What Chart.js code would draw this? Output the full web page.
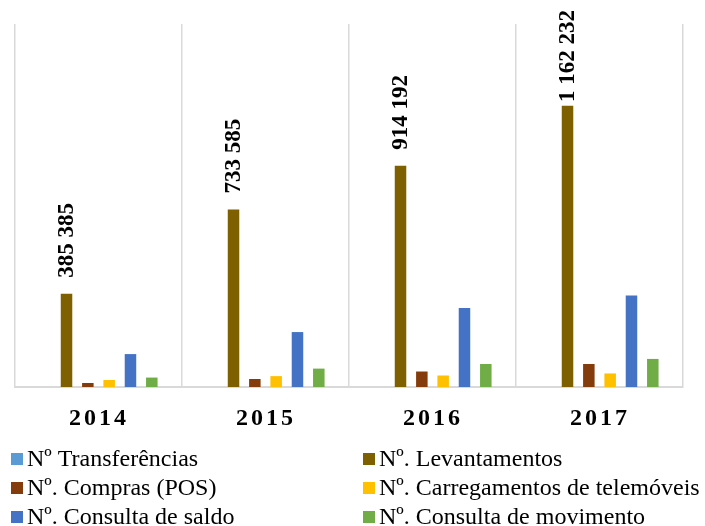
<!DOCTYPE html>
<html>
<head>
<meta charset="utf-8">
<script src="https://cdn.jsdelivr.net/npm/chart.js@4"></script>
<style>
  html, body { margin: 0; padding: 0; background: #fff; }
  #wrap { width: 705px; height: 526px; position: relative; }
</style>
</head>
<body>
<div id="wrap"><canvas id="chart"></canvas></div>
<script>
// ===== Data =====
const years = ["2014", "2015", "2016", "2017"];
const seriesNames = [
  "Nº Transferências",
  "Nº. Levantamentos",
  "Nº. Compras (POS)",
  "Nº. Carregamentos de telemóveis",
  "Nº. Consulta de saldo",
  "Nº. Consulta de movimento"
];
const transferencias = [0, 0, 0, 0];
const levantamentos = [385385, 733585, 914192, 1162232];
const compras = [16500, 33000, 64000, 95000];
const carregamentos = [29000, 45000, 47500, 56000];
const consultaSaldo = [136000, 227000, 326000, 378000];
const consultaMovimento = [39000, 76000, 95000, 116000];
const seriesColors = ["#5B9BD5", "#7F6000", "#843C0C", "#FFC000", "#4472C4", "#70AD47"];

const allSeries = [transferencias, levantamentos, compras, carregamentos, consultaSaldo, consultaMovimento];

const serifFont = "'Liberation Serif', 'Times New Roman', serif";

// ===== Value labels on Levantamentos (rotated) =====
const levLabels = {
  id: "levLabels",
  afterDatasetsDraw(chart) {
    const ctx = chart.ctx;
    const meta = chart.getDatasetMeta(1);
    ctx.save();
    ctx.font = "bold 23px " + serifFont;
    ctx.fillStyle = "#000";
    ctx.textAlign = "left";
    ctx.textBaseline = "middle";
    meta.data.forEach((bar, i) => {
      const txt = levantamentos[i].toLocaleString("fr-FR").replace(/\s/g, " ");
      const w = ctx.measureText(txt).width;
      let bottom = bar.y - 16;
      if (bottom - w < 10) bottom = 10 + w;
      ctx.save();
      ctx.translate(bar.x + 1, bottom);
      ctx.rotate(-Math.PI / 2);
      ctx.fillText(txt, 0, 0);
      ctx.restore();
    });
    ctx.restore();
  }
};

// ===== Spaced-out year labels under the axis =====
const yearLabels = {
  id: "yearLabels",
  afterDraw(chart) {
    const ctx = chart.ctx;
    const xs = chart.scales.x;
    ctx.save();
    ctx.font = "bold 24px " + serifFont;
    ctx.letterSpacing = "3px";
    ctx.fillStyle = "#000";
    ctx.textAlign = "left";
    ctx.textBaseline = "alphabetic";
    years.forEach((y, i) => {
      const w = ctx.measureText(y).width - 3;
      const cx = xs.getPixelForValue(i) - 1;
      ctx.fillText(y, cx - w / 2, 425);
    });
    ctx.restore();
  }
};

// ===== Two-column legend =====
const twoColLegend = {
  id: "twoColLegend",
  afterDraw(chart) {
    const ctx = chart.ctx;
    const colX = [11, 363];
    const rowY = [459, 488, 517];
    ctx.save();
    ctx.font = "24px " + serifFont;
    ctx.textBaseline = "middle";
    ctx.textAlign = "left";
    chart.data.datasets.forEach((ds, i) => {
      const x = colX[i % 2];
      const y = rowY[Math.floor(i / 2)];
      ctx.fillStyle = ds.backgroundColor;
      ctx.fillRect(x, y - 6, 12, 12);
      ctx.fillStyle = "#000";
      ctx.fillText(ds.label, x + 16, y + 1);
    });
    ctx.restore();
  }
};

new Chart(document.getElementById("chart"), {
  type: "bar",
  data: {
    labels: years,
    datasets: seriesNames.map((name, i) => ({
      label: name,
      data: allSeries[i],
      backgroundColor: seriesColors[i],
      borderWidth: 0,
      categoryPercentage: 0.766,
      barPercentage: 0.54
    }))
  },
  options: {
    responsive: true,
    maintainAspectRatio: false,
    animation: false,
    layout: { padding: { left: 15, right: 22, top: 24, bottom: 0 } },
    plugins: {
      legend: { display: false },
      tooltip: { enabled: false }
    },
    scales: {
      x: {
        grid: { color: "#d9d9d9", lineWidth: 1.5, drawTicks: false, offset: true },
        border: { color: "#d9d9d9", width: 2 },
        ticks: { display: false },
        afterFit: s => { s.height = 139; }
      },
      y: {
        display: false,
        min: 0,
        max: 1500000
      }
    }
  },
  plugins: [levLabels, yearLabels, twoColLegend]
});
</script>
</body>
</html>
